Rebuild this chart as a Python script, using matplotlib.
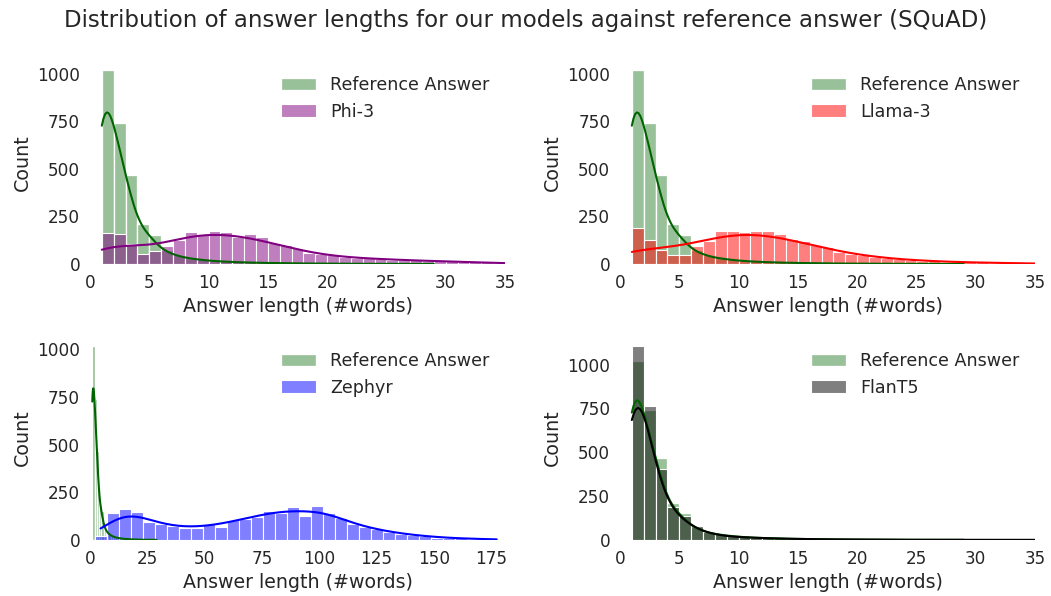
import numpy as np
import pandas as pd
import matplotlib
matplotlib.use("Agg")
import matplotlib.pyplot as plt
import seaborn as sns

# Counts per answer length, one-word bins starting at 1 word
ref_counts = [1019, 739, 467, 208, 153, 75, 50, 33, 25, 18, 14, 11, 9, 7, 6,
              5, 4, 3, 3, 2, 2, 2, 1, 1, 1, 1, 1, 1, 1]
phi3_counts = [165, 159, 105, 52, 70, 95, 124, 169, 152, 173, 171, 144, 156, 141, 110,
               100, 84, 60, 53, 46, 36, 30, 33, 28, 24, 22, 20, 18, 16, 14,
               12, 10, 9, 8, 7]
llama3_counts = [187, 127, 72, 46, 50, 95, 121, 174, 174, 170, 174, 174, 157, 130, 120,
                 100, 92, 63, 52, 47, 35, 32, 26, 23, 18, 14, 12, 9, 11, 9,
                 6, 5, 5, 5, 5]
flant5_counts = [1107, 766, 406, 187, 135, 80, 46, 32, 21, 17, 13, 11, 9, 7, 6,
                 5, 4, 3, 3, 2, 2, 2, 1, 1, 1, 1, 1, 1, 1, 1,
                 1, 1, 1, 1, 1]
# Zephyr answers are much longer: 34 equal bins between 2 and 180 words
zephyr_counts = [23, 140, 165, 146, 95, 83, 74, 62, 62, 85, 67, 107, 111, 121, 150,
                 144, 171, 128, 178, 139, 114, 83, 67, 56, 44, 32, 25, 23, 12, 11,
                 9, 5, 5, 4]
zephyr_range = (2, 180)

sns.set_theme(style="white")
plt.rcParams["font.family"] = ["DejaVu Sans"]
plt.rcParams["xtick.labelsize"] = 12.2
plt.rcParams["ytick.labelsize"] = 12.2
plt.rcParams["axes.labelsize"] = 13.7
plt.rcParams["xtick.major.size"] = 0
plt.rcParams["ytick.major.size"] = 0
plt.rcParams["xtick.major.pad"] = 7
plt.rcParams["ytick.major.pad"] = 7


def bwFix(counts):
    """
    Weighted KDE uses the effective sample size, this brings the
    bandwidth back to what the raw answers would give.
    """
    w = np.asarray(counts, dtype=float)
    neff = w.sum() ** 2 / (w ** 2).sum()
    return (neff / w.sum()) ** 0.2


def onePanel(ax, values, counts, binrange, name, color, smooth, xmax, xticks):
    """
    Reference answer histogram with the model histogram on top.
    """
    refData = pd.DataFrame({"len": np.arange(1, len(ref_counts) + 1), "n": ref_counts})
    modelData = pd.DataFrame({"len": values, "n": counts})
    sns.histplot(data=refData, x="len", weights="n", binwidth=1,
                 binrange=(1, len(ref_counts) + 1),
                 kde=True, color="darkgreen", alpha=0.4, label="Reference Answer",
                 kde_kws={"bw_adjust": bwFix(ref_counts) * 1.1}, ax=ax)
    # model tails go past the visible range, so their curves need extra smoothing
    sns.histplot(data=modelData, x="len", weights="n",
                 binwidth=(binrange[1] - binrange[0]) / len(counts), binrange=binrange,
                 kde=True, color=color, alpha=0.5, label=name,
                 kde_kws={"bw_adjust": bwFix(counts) * smooth}, ax=ax)
    ax.set_xlim(0, xmax)
    ax.set_xticks(xticks)
    ax.set_yticks([0, 250, 500, 750, 1000])
    ax.set_xlabel("Answer length (#words)")
    ax.set_ylabel("Count")
    ax.legend(frameon=False, loc="upper right", fontsize=12.6)
    sns.despine(ax=ax, left=True, bottom=True)


fig, axs = plt.subplots(2, 2, figsize=(10.51, 5.96), dpi=100)
fig.subplots_adjust(left=0.0856, right=0.9848, top=0.899, bottom=0.094,
                    wspace=0.277, hspace=0.353)

short_ticks = np.arange(0, 36, 5)
for ax, counts, name, color, smooth in [(axs[0, 0], phi3_counts, "Phi-3", "purple", 1.5),
                                        (axs[0, 1], llama3_counts, "Llama-3", "red", 2.0),
                                        (axs[1, 1], flant5_counts, "FlanT5", "black", 1.25)]:
    lengths = np.arange(1, len(counts) + 1)
    onePanel(ax, lengths, counts, (1, len(counts) + 1), name, color, smooth, 35, short_ticks)

z_step = (zephyr_range[1] - zephyr_range[0]) / len(zephyr_counts)
z_mid = zephyr_range[0] + z_step * (np.arange(len(zephyr_counts)) + 0.5)
onePanel(axs[1, 0], z_mid, zephyr_counts, zephyr_range, "Zephyr", "blue", 1.0, 181,
         np.arange(0, 176, 25))

fig.suptitle("Distribution of answer lengths for our models against reference answer (SQuAD)",
             fontsize=16.5, y=0.985, color="0.15")

plt.savefig("out.png")
